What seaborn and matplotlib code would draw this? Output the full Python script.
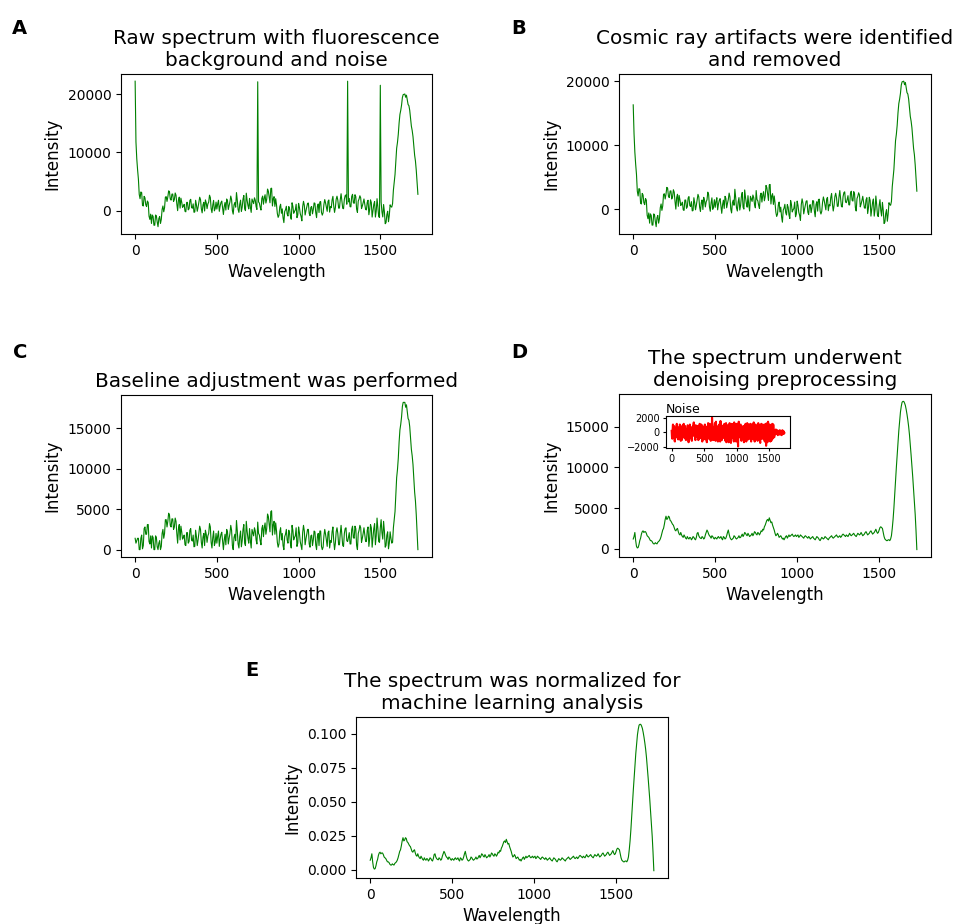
import matplotlib
matplotlib.use("Agg")
import matplotlib.pyplot as plt
import numpy as np
import seaborn as sns

plt.rcParams['font.family'] = ['DejaVu Sans']

# Wavelength grid (step 5, 0..1730)
WAVELENGTH = np.arange(0, 1735, 5)

# Denoised spectrum (panel D), one row per 100 units
DENOISED = [
    1200, 1500, 2000, 1000, 300, 100, 150, 500, 1000, 1300, 1800, 2100, 2200, 2000, 2100, 2100, 1900, 1600, 1500, 1400,
    1200, 1000, 1000, 900, 700, 600, 600, 750, 650, 600, 800, 900, 1000, 1200, 1500, 1900, 2300, 2500, 3000, 3600,
    4000, 3600, 3700, 4000, 3900, 3500, 3400, 3200, 3000, 2900, 2600, 2300, 2200, 2400, 2500, 2100, 1800, 1700, 2000, 1700,
    1500, 1400, 1700, 1500, 1300, 1200, 1500, 1300, 1200, 1400, 1350, 1100, 1250, 1500, 1400, 1200, 1100, 1400, 1900, 2000,
    1600, 1400, 1300, 1250, 1500, 1400, 1200, 1300, 1700, 2000, 2300, 2100, 1800, 1600, 1500, 1300, 1600, 1500, 1300, 1200,
    1400, 1300, 1200, 1400, 1500, 1300, 1350, 1500, 1250, 1100, 1500, 1400, 1200, 1300, 1600, 2000, 2300, 1800, 1400, 1200,
    1100, 1200, 1300, 1600, 1500, 1300, 1200, 1300, 1400, 1600, 1350, 1400, 1600, 1800, 1500, 1700, 2000, 1900, 1700, 1600,
    1900, 1700, 1500, 1600, 1700, 1900, 1600, 1800, 2100, 2000, 1800, 1700, 2000, 1900, 1700, 1900, 2200, 2100, 2400, 2300,
    2700, 2900, 3200, 3500, 3600, 3400, 3800, 3500, 3200, 3300, 2900, 2600, 2300, 1900, 1600, 1700, 1900, 1700, 1400, 1500,
    1600, 1400, 1200, 1300, 1100, 1300, 1500, 1600, 1300, 1500, 1700, 1500, 1600, 1700, 1800, 1600, 1500, 1600, 1700, 1500,
    1600, 1700, 1400, 1500, 1700, 1600, 1500, 1400, 1300, 1500, 1600, 1500, 1400, 1300, 1500, 1400, 1200, 1300, 1400, 1500,
    1300, 1200, 1100, 1300, 1500, 1400, 1300, 1100, 1000, 1200, 1400, 1300, 1200, 1300, 1500, 1400, 1300, 1200, 1100, 1300,
    1400, 1500, 1600, 1400, 1300, 1400, 1500, 1600, 1700, 1500, 1400, 1500, 1600, 1400, 1500, 1700, 1800, 1700, 1600, 1500,
    1700, 1600, 1500, 1700, 1900, 1700, 1600, 1700, 1800, 1900, 1700, 1600, 1500, 1700, 1900, 1800, 1700, 1800, 2000, 1800,
    1600, 1700, 1800, 2000, 2100, 1900, 1700, 1800, 1900, 2100, 2200, 2000, 1800, 1900, 2000, 2200, 2400, 2100, 1900, 2000,
    2300, 2600, 2700, 2600, 2500, 2000, 1500, 1200, 1100, 1000, 1000, 1100, 1100, 1000, 1200, 1600, 2500, 3600, 5000, 6700,
    8500, 10000, 11500, 13000, 14500, 15700, 16800, 17500, 18000, 18100, 18100, 17900, 17600, 17100, 16500, 15800, 15000, 14000, 12800, 11500,
    10200, 8800, 7300, 5800, 4200, 2200, -100,
]

# Noise component (inset of panel D)
NOISE = [
    200, -700, -900, 400, 1100, -300, -400, 900, 800, -1200, -1300, 500, 600, -100, -200, 1000, 1200, -600, -800, 300,
    -1000, 700, 500, -900, -700, 1100, 900, -400, -1200, 200, 300, -1100, -600, 800, 1000, -500, -300, 1200, 700, -800,
    -500, 900, 600, -1000, -1100, 300, 400, -700, -200, 1000, 900, -300, -1400, 200, 600, -900, 1100, 500, -700, -200,
    300, -800, -1200, 600, 800, -400, -500, 1100, 1400, -200, -300, 700, -900, -1100, 1000, 400, -600, -200, 200, 900,
    900, -500, -1100, 300, 500, -900, 1200, 600, -800, -300, -300, 1100, 1000, -700, -1300, 200, 700, -1000, -400, 800,
    -600, 400, 1100, -1000, -200, 600, 800, -500, -1400, 100, 400, -800, 1300, 900, -900, -600, -300, 1200, 1000, -700,
    -1200, 300, 600, -500, 2100, 1000, -500, -1100, 200, 700, -1000, -300, 900, 1300, -700, -1200, 1500, 400, -300, -800,
    700, -600, -1300, 900, 400, -200, 1100, 500, -900, -1300, 1600, 300, -200, -800, -1100, 700, 800, -500, 300, 1000,
    -800, -300, 1200, 600, -500, -1200, 900, 1300, -1400, -200, 600, -700, 1000, 400, -700, -1400, -1200, 500, 1300, -300,
    400, -900, -1500, 300, 800, 1200, -300, -800, 1100, 500, -900, -1300, 1400, 700, -600, -100, 200, 1100, -1300, -700,
    1200, 400, -400, -1000, -2000, 500, 1500, 900, -700, -200, 300, 1000, 1100, -600, -1200, 300, 600, -800, -200, 800,
    900, -600, -1400, 300, 500, -900, 1000, 1200, -600, -1300, -1100, 400, 1300, 600, -300, -1000, 800, 1100, -900, -200,
    -500, 700, 1200, -300, -1300, -600, 700, 1100, 300, -900, -800, 500, 1400, 400, -1000, -1300, 200, 900, 1100, -400,
    -700, -100, 600, -1000, -1200, 800, 1300, -200, -400, 1000, 900, -1100, -1500, 300, 500, 1200, 1000, -900, -600, 200,
    1100, 200, -800, -1000, 300, 900, -1300, -400, 1200, 600, -1900, -600, 800, 1300, -1400, -500, 1500, 500, -900, -1100,
    400, 1100, -600, -1300, 1000, 300, -1200, -700, 700, 1200, -900, -300, 1100, 400, -400, -700, 200, 100, -300, 200,
    400, -100, -200, 300, 300, -200, -400, 200, 200, 100, 100, -300, 300, -100, -300, 200, 200, -200, -400, 100,
    300, -100, -200, 200, 100, -200, -100,
]

# Fluorescence background (difference between panels B and C)
BASELINE = [
    14900, 11000, 7800, 5600, 4000, 3000, 2300, 1800, 1300, 800, 300, -150, -600, -900, -1200, -1450, -1700, -1950, -2200, -2300,
    -2400, -2450, -2500, -2500, -2500, -2450, -2400, -2300, -2200, -2150, -2100, -2000, -1900, -1800, -1700, -1600, -1500, -1400, -1300, -1220,
    -1150, -1100, -1050, -1020, -1000, -970, -950, -920, -900, -870, -850, -820, -800, -790, -780, -770, -760, -750, -740, -730,
    -720, -710, -700, -690, -680, -670, -660, -655, -650, -645, -640, -635, -630, -625, -620, -615, -610, -605, -600, -595,
    -590, -585, -580, -575, -570, -565, -560, -560, -560, -555, -550, -550, -550, -545, -540, -540, -540, -535, -530, -530,
    -530, -525, -520, -520, -520, -515, -510, -510, -510, -505, -500, -500, -500, -500, -500, -500, -500, -500, -500, -500,
    -500, -500, -500, -500, -500, -500, -500, -500, -500, -500, -500, -500, -500, -500, -500, -500, -500, -500, -500, -500,
    -500, -500, -500, -500, -500, -500, -500, -500, -500, -500, -500, -500, -500, -500, -500, -500, -500, -500, -550, -570,
    -600, -650, -700, -750, -800, -850, -900, -950, -1000, -1050, -1100, -1170, -1250, -1320, -1400, -1450, -1500, -1550, -1600, -1650,
    -1700, -1720, -1750, -1750, -1750, -1750, -1750, -1720, -1700, -1700, -1700, -1670, -1650, -1650, -1650, -1620, -1600, -1600, -1600, -1570,
    -1550, -1520, -1500, -1470, -1450, -1420, -1400, -1370, -1350, -1320, -1300, -1250, -1200, -1170, -1150, -1120, -1100, -1050, -1000, -970,
    -950, -920, -900, -870, -850, -820, -800, -750, -700, -670, -650, -620, -600, -570, -550, -520, -500, -470, -450, -420,
    -400, -370, -350, -320, -300, -270, -250, -220, -200, -170, -150, -120, -100, -100, -100, -70, -50, -20, 0, 0,
    0, 0, 0, -20, -50, -70, -100, -120, -150, -170, -200, -250, -300, -350, -400, -450, -500, -550, -600, -650,
    -700, -750, -800, -870, -950, -1020, -1100, -1170, -1250, -1320, -1400, -1470, -1550, -1620, -1700, -1770, -1850, -1920, -2000, -2070,
    -2150, -2230, -2300, -2380, -2450, -2500, -2550, -2550, -2500, -2300, -2000, -1600, -1200, -700, -200, 300, 800, 1200, 1500, 1650,
    1800, 1800, 1800, 1750, 1700, 1700, 1700, 1700, 1700, 1750, 1800, 1850, 1900, 1950, 2000, 2000, 2000, 2050, 2100, 2150,
    2200, 2300, 2400, 2500, 2600, 2800, 3000,
]

# Cosmic ray spikes in the raw spectrum
SPIKE_WAVELENGTHS = [0, 750, 1300, 1500]
SPIKE_HEIGHTS = [22200, 22100, 22200, 21500]

NORM_FACTOR = 169000.0

TITLES = [
    'Raw spectrum with fluorescence\nbackground and noise',
    'Cosmic ray artifacts were identified\nand removed',
    'Baseline adjustment was performed',
    'The spectrum underwent\ndenoising preprocessing',
    'The spectrum was normalized for\nmachine learning analysis',
]
LETTERS = ['A', 'B', 'C', 'D', 'E']


def plot_spectrum(ax, y, title):
    sns.lineplot(x=WAVELENGTH, y=y, ax=ax, color='green', linewidth=0.8, errorbar=None)
    ax.set_title(title, fontsize=14.4)
    ax.set_xlabel('Wavelength', fontsize=12)
    ax.set_ylabel('Intensity', fontsize=12)
    ax.tick_params(labelsize=10)


def main():
    denoised = np.array(DENOISED, dtype=float)
    noise = np.array(NOISE, dtype=float)
    baseline = np.array(BASELINE, dtype=float)

    corrected = np.clip(denoised + noise, 0, None)
    no_cosmic = denoised + noise + baseline
    raw = no_cosmic.copy()
    for w, h in zip(SPIKE_WAVELENGTHS, SPIKE_HEIGHTS):
        raw[WAVELENGTH == w] = h
    normalized = denoised / NORM_FACTOR

    fig = plt.figure(figsize=(9.55, 9.24), dpi=100)

    rects = [
        [0.1267, 0.7468, 0.3257, 0.1732],
        [0.6482, 0.7468, 0.3267, 0.1732],
        [0.1267, 0.3972, 0.3257, 0.1753],
        [0.6482, 0.3972, 0.3267, 0.1764],
        [0.3728, 0.0498, 0.3267, 0.1742],
    ]
    letter_pos = [(0.0126, 0.979), (0.535, 0.979), (0.0136, 0.629),
                  (0.535, 0.629), (0.2565, 0.2846)]
    series = [raw, no_cosmic, corrected, denoised, normalized]

    for rect, y, title, letter, pos in zip(rects, series, TITLES, LETTERS, letter_pos):
        ax = fig.add_axes(rect)
        plot_spectrum(ax, y, title)
        fig.text(pos[0], pos[1], letter, fontsize=14, fontweight='bold',
                 ha='left', va='top')

    # Noise inset in panel D
    ax_in = fig.add_axes([0.6974, 0.5152, 0.1298, 0.0346])
    sns.lineplot(x=WAVELENGTH, y=noise, ax=ax_in, color='red', linewidth=1.5, errorbar=None)
    ax_in.set_title('Noise', fontsize=9, loc='left', pad=1.5)
    ax_in.set_yticks([-2000, 0, 2000])
    ax_in.set_xticks([0, 500, 1000, 1500])
    ax_in.tick_params(labelsize=7, length=2.5, pad=2)
    ax_in.set_xlabel('')
    ax_in.set_ylabel('')

    fig.savefig('out.png', dpi=100)
    plt.close(fig)


if __name__ == '__main__':
    main()
